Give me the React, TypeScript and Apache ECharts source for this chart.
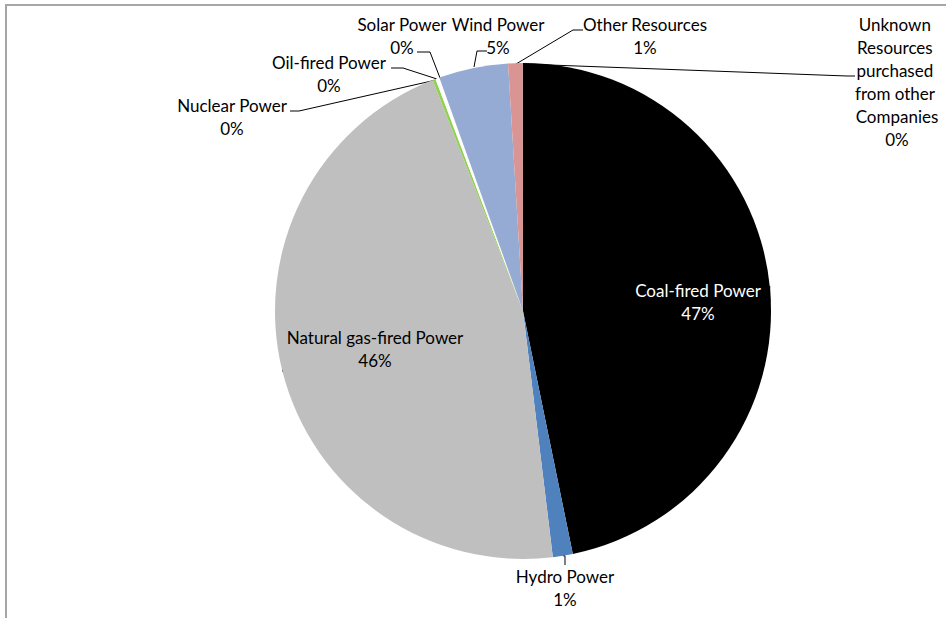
import React, { useEffect, useRef } from "react";
import * as echarts from "echarts";

const categories = [
  "Coal-fired Power",
  "Hydro Power",
  "Natural gas-fired Power",
  "Nuclear Power",
  "Oil-fired Power",
  "Solar Power",
  "Wind Power",
  "Other Resources",
  "Unknown Resources purchased from other Companies",
];
const shares = [46.8, 1.3, 46.0, 0.2, 0.25, 0.01, 4.52, 0.95, 0.01];
const colors = ["#000000", "#4f81bd", "#bfbfbf", "#92d050", "#ffffff", "#f2f2f2", "#95abd3", "#d99594", "#7f7f7f"];

// label anchor (centre) and leader-line points, chart pixel space
const labelPos: [number, number][] = [
  [698, 302],
  [565, 588],
  [375, 349],
  [232, 117],
  [329, 74],
  [402, 36],
  [498, 36],
  [645, 36],
  [897, 82],
];
const leaderLines: ([number, number][] | null)[] = [
  null,
  null,
  null,
  [[436, 80], [299, 111], [290, 111]],
  [[437, 79], [403, 68], [391, 68]],
  [[440, 78], [430, 52], [417, 52]],
  [[474, 67], [477, 51], [487, 51]],
  [[516, 64], [573, 30], [583, 30]],
  [[523, 64], [847, 76], [855, 76]],
];

export default function App() {
  const ref = useRef<HTMLDivElement>(null);
  useEffect(() => {
    document.body.style.margin = "0";
    const chart = echarts.init(ref.current!, null, { renderer: "svg" });
    const total = shares.reduce((a, b) => a + b, 0);
    chart.setOption({
      animation: false,
      backgroundColor: "#ffffff",
      graphic: [
        {
          type: "rect",
          shape: { x: 6, y: 5, width: 1200, height: 1000 },
          style: { fill: "none", stroke: "#a6a6a6", lineWidth: 2 },
          silent: true,
        },
      ],
      series: [
        {
          type: "pie",
          center: [523, 311],
          radius: 248,
          startAngle: 90,
          clockwise: true,
          avoidLabelOverlap: false,
          minAngle: 0,
          data: categories.map((name, i) => ({
            name,
            value: shares[i],
            itemStyle: { color: colors[i] },
            label: {
              color: i === 0 ? "#ffffff" : "#000000",
              ...(i === 8 ? { width: 92, overflow: "break" } : {}),
            },
          })),
          label: {
            show: true,
            position: "outside",
            fontFamily: "Lato",
            fontSize: 17,
            lineHeight: 23,
            align: "center",
            formatter: (p: any) => `${p.name}\n${Math.round((p.value / total) * 100)}%`,
          },
          labelLine: {
            show: true,
            lineStyle: { color: "#000000", width: 1 },
          },
          labelLayout: (p: any) => {
            const i = p.dataIndex;
            const res: any = {
              x: labelPos[i][0],
              y: labelPos[i][1],
              align: "center",
              verticalAlign: "middle",
              hideOverlap: false,
              moveOverlap: false,
            };
            if (leaderLines[i]) res.labelLinePoints = leaderLines[i];
            return res;
          },
          emphasis: { disabled: true },
        },
      ],
    });
    return () => chart.dispose();
  }, []);
  return <div ref={ref} style={{ width: 946, height: 618 }} />;
}
